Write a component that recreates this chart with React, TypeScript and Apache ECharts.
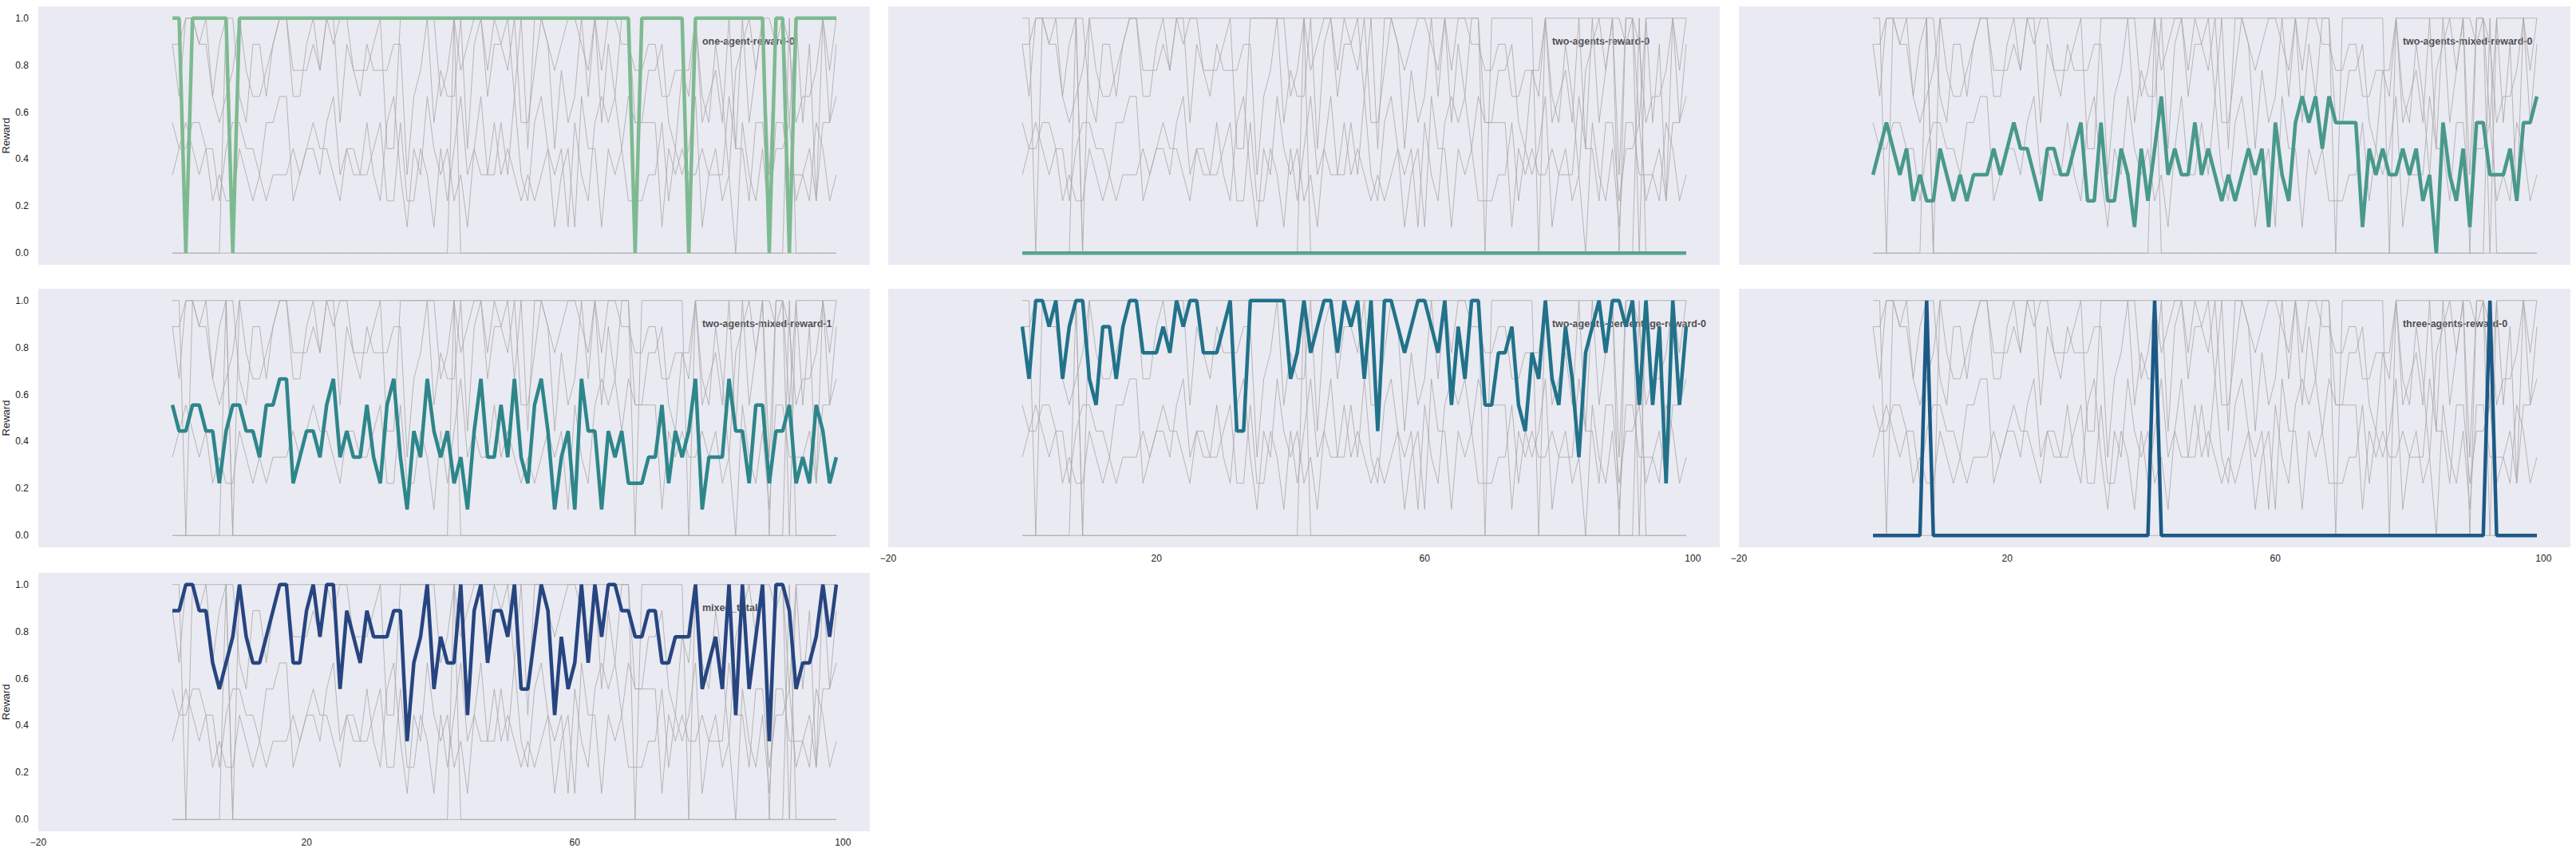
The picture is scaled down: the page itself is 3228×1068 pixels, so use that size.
import React, { useRef, useEffect } from 'react';
import * as echarts from 'echarts';

// rewards are stored in ninths (k / 9)
const steps: number[] = Array.from({ length: 100 }, (_, i) => i);

const oneAgent = [
  9, 9, 0, 9, 9, 9, 9, 9, 9, 0,
  9, 9, 9, 9, 9, 9, 9, 9, 9, 9,
  9, 9, 9, 9, 9, 9, 9, 9, 9, 9,
  9, 9, 9, 9, 9, 9, 9, 9, 9, 9,
  9, 9, 9, 9, 9, 9, 9, 9, 9, 9,
  9, 9, 9, 9, 9, 9, 9, 9, 9, 9,
  9, 9, 9, 9, 9, 9, 9, 9, 9, 0,
  9, 9, 9, 9, 9, 9, 9, 0, 9, 9,
  9, 9, 9, 9, 9, 9, 9, 9, 9, 0,
  9, 9, 0, 9, 9, 9, 9, 9, 9, 9,
];
const twoAgents = [
  0, 0, 0, 0, 0, 0, 0, 0, 0, 0,
  0, 0, 0, 0, 0, 0, 0, 0, 0, 0,
  0, 0, 0, 0, 0, 0, 0, 0, 0, 0,
  0, 0, 0, 0, 0, 0, 0, 0, 0, 0,
  0, 0, 0, 0, 0, 0, 0, 0, 0, 0,
  0, 0, 0, 0, 0, 0, 0, 0, 0, 0,
  0, 0, 0, 0, 0, 0, 0, 0, 0, 0,
  0, 0, 0, 0, 0, 0, 0, 0, 0, 0,
  0, 0, 0, 0, 0, 0, 0, 0, 0, 0,
  0, 0, 0, 0, 0, 0, 0, 0, 0, 0,
];
const mixed0 = [
  3, 4, 5, 4, 3, 4, 2, 3, 2, 2,
  4, 3, 2, 3, 2, 3, 3, 3, 4, 3,
  4, 5, 4, 4, 3, 2, 4, 4, 3, 3,
  4, 5, 2, 2, 5, 2, 2, 4, 3, 1,
  4, 2, 4, 6, 3, 4, 3, 3, 5, 3,
  4, 3, 2, 3, 2, 3, 4, 3, 4, 1,
  5, 3, 2, 5, 6, 5, 6, 4, 6, 5,
  5, 5, 5, 1, 4, 3, 4, 3, 3, 4,
  3, 4, 2, 3, 0, 5, 3, 2, 4, 1,
  5, 5, 3, 3, 3, 4, 2, 5, 5, 6,
];
const mixed1 = [
  5, 4, 4, 5, 5, 4, 4, 2, 4, 5,
  5, 4, 4, 3, 5, 5, 6, 6, 2, 3,
  4, 4, 3, 5, 6, 3, 4, 3, 3, 5,
  3, 2, 5, 6, 3, 1, 4, 3, 6, 4,
  3, 4, 2, 3, 1, 4, 6, 3, 3, 5,
  3, 6, 3, 2, 5, 6, 4, 1, 3, 4,
  1, 6, 4, 4, 1, 4, 3, 4, 2, 2,
  2, 3, 3, 5, 2, 4, 3, 4, 6, 1,
  3, 3, 3, 6, 4, 4, 2, 5, 5, 2,
  4, 4, 5, 2, 3, 2, 5, 4, 2, 3,
];
const percentage0 = [
  8, 6, 9, 9, 8, 9, 6, 8, 9, 9,
  6, 5, 8, 8, 6, 8, 9, 9, 7, 7,
  7, 8, 7, 9, 8, 9, 9, 7, 7, 7,
  8, 9, 4, 4, 9, 9, 9, 9, 9, 9,
  6, 7, 9, 7, 8, 9, 9, 7, 9, 8,
  9, 6, 9, 4, 9, 9, 8, 7, 8, 9,
  9, 8, 7, 9, 5, 8, 6, 9, 9, 5,
  5, 7, 7, 8, 5, 4, 7, 6, 9, 6,
  5, 8, 6, 3, 7, 8, 9, 7, 9, 9,
  8, 9, 5, 9, 5, 8, 2, 9, 5, 8,
];
const threeAgents = [
  0, 0, 0, 0, 0, 0, 0, 0, 9, 0,
  0, 0, 0, 0, 0, 0, 0, 0, 0, 0,
  0, 0, 0, 0, 0, 0, 0, 0, 0, 0,
  0, 0, 0, 0, 0, 0, 0, 0, 0, 0,
  0, 0, 9, 0, 0, 0, 0, 0, 0, 0,
  0, 0, 0, 0, 0, 0, 0, 0, 0, 0,
  0, 0, 0, 0, 0, 0, 0, 0, 0, 0,
  0, 0, 0, 0, 0, 0, 0, 0, 0, 0,
  0, 0, 0, 0, 0, 0, 0, 0, 0, 0,
  0, 0, 9, 0, 0, 0, 0, 0, 0, 0,
];
const mixedTotal = [
  8, 8, 9, 9, 8, 8, 6, 5, 6, 7,
  9, 7, 6, 6, 7, 8, 9, 9, 6, 6,
  8, 9, 7, 9, 9, 5, 8, 7, 6, 8,
  7, 7, 7, 8, 8, 3, 6, 7, 9, 5,
  7, 6, 6, 9, 4, 8, 9, 6, 8, 8,
  7, 9, 5, 5, 7, 9, 8, 4, 7, 5,
  6, 9, 6, 9, 7, 9, 9, 8, 8, 7,
  7, 8, 8, 6, 6, 7, 7, 7, 9, 5,
  6, 7, 5, 9, 4, 9, 5, 7, 9, 3,
  9, 9, 8, 5, 6, 6, 7, 9, 7, 9,
];

const seriesNames = [
  'one-agent-reward-0',
  'two-agents-reward-0',
  'two-agents-mixed-reward-0',
  'two-agents-mixed-reward-1',
  'two-agents-percentage-reward-0',
  'three-agents-reward-0',
  'mixed_total',
];
const seriesValues = [oneAgent, twoAgents, mixed0, mixed1, percentage0, threeAgents, mixedTotal];
const seriesColors = ['#7dba91', '#55a58e', '#48998b', '#2d868a', '#21728a', '#1c5a86', '#264580'];

const xTicks = [-20, 20, 60, 100];
const yTicks = [0, 0.2, 0.4, 0.6, 0.8, 1.0];
const labelPos: [number, number] = [79, 0.9];

const colLeft = [48, 1113, 2179];
const rowTop = [8, 362, 718];
const panelW = 1042;
const panelH = 324;

const App: React.FC = () => {
  const chartRef = useRef<HTMLDivElement>(null);

  useEffect(() => {
    if (!chartRef.current) return;
    document.body.style.margin = '0';
    const chart = echarts.init(chartRef.current, undefined, { renderer: 'svg' });

    const toPairs = (vals: number[]) => steps.map((s, i) => [s, vals[i] / 9]);
    const font = 'Liberation Sans, Arial, sans-serif';

    const grids: any[] = [];
    const xAxes: any[] = [];
    const yAxes: any[] = [];
    const series: any[] = [];

    seriesNames.forEach((name, p) => {
      const col = p % 3;
      const row = Math.floor(p / 3);
      grids.push({
        left: colLeft[col], top: rowTop[row], width: panelW, height: panelH,
        show: true, backgroundColor: '#eaeaf2', borderWidth: 0,
      });
      const showX = p >= 4;
      const showY = col === 0;
      xAxes.push({
        type: 'value', gridIndex: p, min: -20, max: 104,
        axisLine: { show: false }, splitLine: { show: false },
        axisTick: { show: false },
        axisLabel: {
          show: showX, customValues: xTicks, margin: 8, fontSize: 12, color: '#222', fontFamily: font,
          formatter: (v: number) => (v < 0 ? '\u2212' + Math.abs(v) : String(v)),
        },
      });
      yAxes.push({
        type: 'value', gridIndex: p, min: -0.05, max: 1.05,
        name: showY ? 'Reward' : '', nameLocation: 'middle', nameGap: 34,
        nameTextStyle: { fontSize: 13, color: '#222', fontFamily: font },
        axisLine: { show: false }, splitLine: { show: false },
        axisTick: { show: false },
        axisLabel: {
          show: showY, customValues: yTicks, margin: 12, fontSize: 12, color: '#222', fontFamily: font,
          formatter: (v: number) => v.toFixed(1),
        },
      });

      // label drawn first so the lines pass over it
      series.push({
        type: 'scatter', xAxisIndex: p, yAxisIndex: p, z: 1,
        symbolSize: 0, silent: true,
        data: [labelPos],
        label: {
          show: true, position: 'inside', align: 'left', verticalAlign: 'middle',
          formatter: name, fontWeight: 'bold', fontSize: 12.5, color: '#222', fontFamily: font,
        },
      });
      seriesValues.forEach((vals) => {
        series.push({
          type: 'line', xAxisIndex: p, yAxisIndex: p, z: 2,
          data: toPairs(vals), showSymbol: false, silent: true,
          lineStyle: { color: '#a8a8a8', width: 1, opacity: 0.8 },
        });
      });
      series.push({
        type: 'line', xAxisIndex: p, yAxisIndex: p, z: 3,
        data: toPairs(seriesValues[p]), showSymbol: false, silent: true,
        lineStyle: { color: seriesColors[p], width: 4.5 },
      });
    });

    chart.setOption({
      animation: false,
      backgroundColor: '#ffffff',
      grid: grids,
      xAxis: xAxes,
      yAxis: yAxes,
      series,
    });

    return () => chart.dispose();
  }, []);

  return <div ref={chartRef} style={{ width: 3228, height: 1068 }} />;
};

export default App;
